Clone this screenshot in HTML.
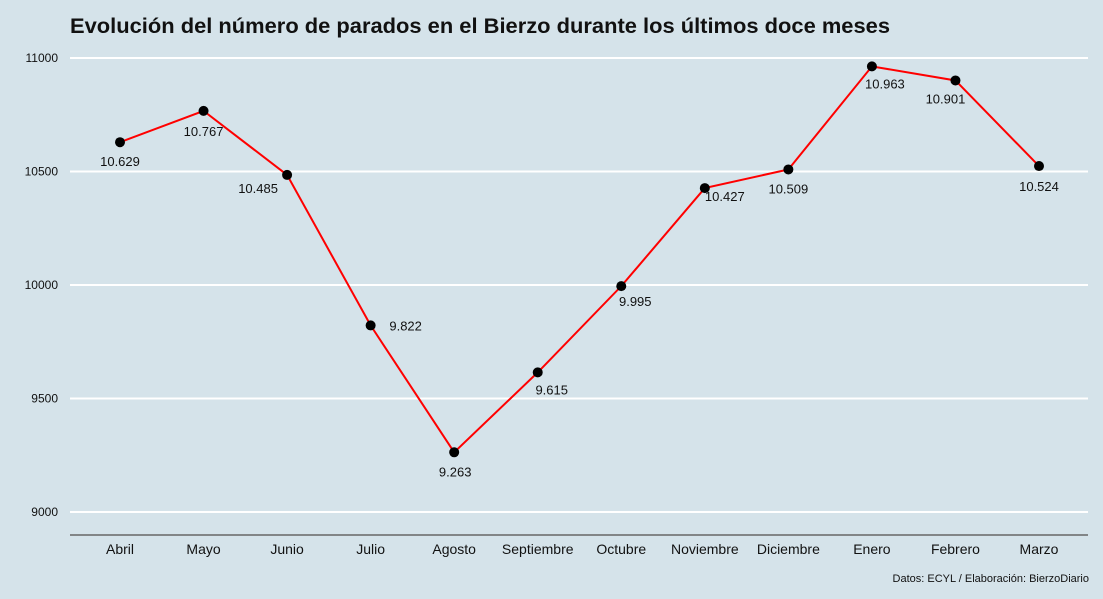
<!DOCTYPE html>
<html><head><meta charset="utf-8">
<style>
html,body{margin:0;padding:0;background:#d5e3ea;}
svg{display:block;font-family:"Liberation Sans",sans-serif;}
</style></head>
<body>
<svg id="chart" width="1103" height="599" viewBox="0 0 1103 599">
<rect x="0" y="0" width="1103" height="599" fill="#d5e3ea"/>
<text x="70" y="33" font-size="21" font-weight="bold" fill="#111" textLength="820" lengthAdjust="spacingAndGlyphs">Evolución del número de parados en el Bierzo durante los últimos doce meses</text>
<g id="grid"></g>
<g id="yticks"></g>
<line x1="70" x2="1088" y1="535" y2="535" stroke="#666" stroke-width="1.5"/>
<g id="xticks"></g>
<g id="series"></g>
<text x="1089" y="582" font-size="11" text-anchor="end" fill="#111">Datos: ECYL / Elaboración: BierzoDiario</text>
</svg>
<script>
const categories = ["Abril","Mayo","Junio","Julio","Agosto","Septiembre","Octubre","Noviembre","Diciembre","Enero","Febrero","Marzo"];
const values = [10629,10767,10485,9822,9263,9615,9995,10427,10509,10963,10901,10524];
const valueLabels = ["10.629","10.767","10.485","9.822","9.263","9.615","9.995","10.427","10.509","10.963","10.901","10.524"];
const yTicks = [9000,9500,10000,10500,11000];

const NS="http://www.w3.org/2000/svg";
const y = v => 512 + (v-9000)*(58-512)/2000;
const x = i => 120 + i*(1039-120)/(categories.length-1);
// label offsets (style only)
const ldx=[0,0,-29,35,1,14,14,20,0,13,-10,0];
const ldy=[24,25,18,5,24,22,20,13,24,22,23,25];

function mk(tag,attrs,parent){const e=document.createElementNS(NS,tag);for(const k in attrs)e.setAttribute(k,attrs[k]);parent.appendChild(e);return e;}
const grid=document.getElementById('grid'),yt=document.getElementById('yticks'),xt=document.getElementById('xticks'),ser=document.getElementById('series');
yTicks.forEach(t=>{
  const l=mk('line',{x1:70,x2:1088,y1:y(t),y2:y(t),stroke:'#fff','stroke-width':2},grid);
  
  
  const tx=mk('text',{x:58,y:y(t)+4,'font-size':12,'text-anchor':'end',fill:'#111'},yt);
  tx.textContent=t;
  
  
});
categories.forEach((c,i)=>{
  const tx=mk('text',{x:x(i),y:554,'font-size':14,'text-anchor':'middle',fill:'#111'},xt);
  tx.textContent=c;
  
  
});
const pl=mk('polyline',{points:values.map((v,i)=>x(i)+','+y(v)).join(' '),fill:'none',stroke:'#f00','stroke-width':2},ser);


values.forEach((v,i)=>{
  const c=mk('circle',{cx:x(i),cy:y(v),r:5,fill:'#000'},ser);
  
  
  const t=mk('text',{x:x(i)+ldx[i],y:y(v)+ldy[i],'font-size':13,'text-anchor':'middle',fill:'#111'},ser);
  t.textContent=valueLabels[i];
  
  
});
</script>
</body></html>
